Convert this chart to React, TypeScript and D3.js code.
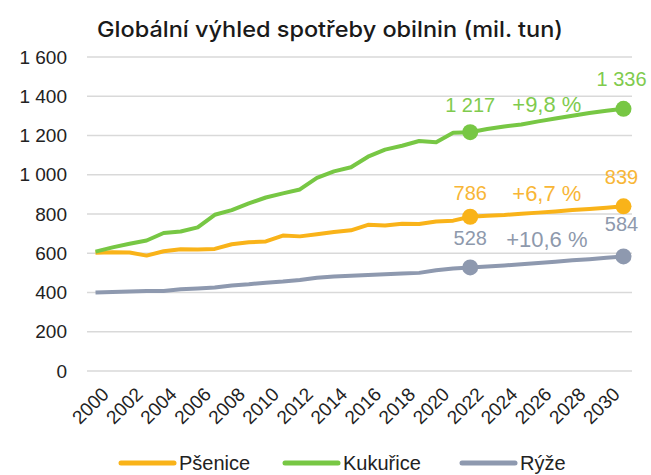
import React from "react";
import * as d3 from "d3";

// roky 2000–2031, popisky osy po dvou letech
const years = d3.range(2000, 2032);
const yearTicks = d3.range(2000, 2031, 2);
const yTicks = [0, 200, 400, 600, 800, 1000, 1200, 1400, 1600];

const psenice = [
  603, 605, 604, 588, 610, 620, 619, 622, 646, 656, 660, 690, 686, 697, 708, 717,
  745, 741, 750, 749, 762, 766, 786, 791, 795, 801, 807, 813, 820, 826, 832, 839,
];
const kukurice = [
  608, 630, 648, 665, 703, 711, 732, 796, 820, 854, 884, 905, 925, 984, 1017, 1038,
  1092, 1128, 1148, 1172, 1166, 1214, 1217, 1233, 1246, 1256, 1272, 1287, 1301, 1315, 1326, 1336,
];
const ryze = [
  400, 403, 405, 408, 408, 416, 421, 425, 436, 442, 450, 456, 464, 475, 481, 485,
  489, 493, 497, 500, 513, 522, 528, 533, 538, 544, 550, 557, 564, 570, 577, 584,
];

const seriesNames = ["Pšenice", "Kukuřice", "Rýže"];
const seriesColors = ["#F9B319", "#77C744", "#8E99AF"];
const labelColors = ["#F8B636", "#7FCB4E", "#8E99AC"];
const changeLabels = ["+6,7 %", "+9,8 %", "+10,6 %"];

const fmt = (v: number) => d3.format(",")(v).replace(/,/g, "\u00a0");

export default function App() {
  const width = 651;
  const height = 475;
  const x = d3.scalePoint<number>().domain(years).range([87, 632]).padding(0.5);
  const y = d3.scaleLinear().domain([0, 1600]).range([371, 57]);
  const data = [psenice, kukurice, ryze];
  const line = d3
    .line<number>()
    .x((d, i) => x(years[i]) as number)
    .y((d) => y(d));

  const font = "'Liberation Sans', Arial, sans-serif";
  // poloha popisků nad body (odsazení v px)
  const labelOffsets = [
    { a: -24, b: -23, c: -29 },
    { a: -27, b: -28, c: -30 },
    { a: -29, b: -28, c: -32 },
  ];

  return (
    <svg
      width={width}
      height={height}
      style={{ position: "absolute", left: 0, top: 0, background: "#fff" }}
      fontFamily={font}
    >
      <text
        x={330}
        y={37}
        textAnchor="middle"
        fontSize={22}
        fontWeight={500}
        fontFamily="Inter, Roboto, sans-serif"
        fill="#1a1a1a"
        textLength={466}
        lengthAdjust="spacingAndGlyphs"
      >
        Globální výhled spotřeby obilnin (mil. tun)
      </text>

      {yTicks.map((t) => (
        <g key={t}>
          <line x1={87} x2={632} y1={y(t)} y2={y(t)} stroke="#d9d9d9" strokeWidth={1.5} />
          <text x={67} y={y(t)} dy="0.35em" textAnchor="end" fontSize={19} fill="#222">
            {fmt(t)}
          </text>
        </g>
      ))}

      {yearTicks.map((t) => (
        <text
          key={t}
          transform={`translate(${(x(t) as number) + 5},${386}) rotate(-45)`}
          textAnchor="end"
          dy="0.7em"
          fontSize={19}
          fill="#222"
        >
          {t}
        </text>
      ))}

      {data.map((s, k) => (
        <path
          key={k}
          d={line(s) || ""}
          fill="none"
          stroke={seriesColors[k]}
          strokeWidth={4}
          strokeLinejoin="round"
        />
      ))}

      {data.map((s, k) => {
        const i22 = years.indexOf(2022);
        const iEnd = years.length - 1;
        const x22 = x(2022) as number;
        const xEnd = x(2031) as number;
        const o = labelOffsets[k];
        return (
          <g key={k}>
            <circle cx={x22} cy={y(s[i22])} r={8} fill={seriesColors[k]} />
            <circle cx={xEnd} cy={y(s[iEnd])} r={8} fill={seriesColors[k]} />
            <text x={x22} y={y(s[i22]) + o.a} dy="0.35em" textAnchor="middle" fontSize={20} fill={labelColors[k]}>
              {fmt(s[i22])}
            </text>
            <text
              x={(x22 + xEnd) / 2}
              y={y(s[i22]) + o.b}
              dy="0.35em"
              textAnchor="middle"
              fontSize={22}
              fill={labelColors[k]}
            >
              {changeLabels[k]}
            </text>
            <text x={xEnd - 2} y={y(s[iEnd]) + o.c} dy="0.35em" textAnchor="middle" fontSize={20} fill={labelColors[k]}>
              {fmt(s[iEnd])}
            </text>
          </g>
        );
      })}

      {seriesNames.map((n, k) => {
        const lx = [121, 285, 462][k];
        return (
          <g key={n}>
            <line x1={lx} x2={lx + 53} y1={463} y2={463} stroke={seriesColors[k]} strokeWidth={5} strokeLinecap="round" />
            <text x={lx + 58} y={463} dy="0.35em" fontSize={20} fill="#222">
              {n}
            </text>
          </g>
        );
      })}
    </svg>
  );
}
